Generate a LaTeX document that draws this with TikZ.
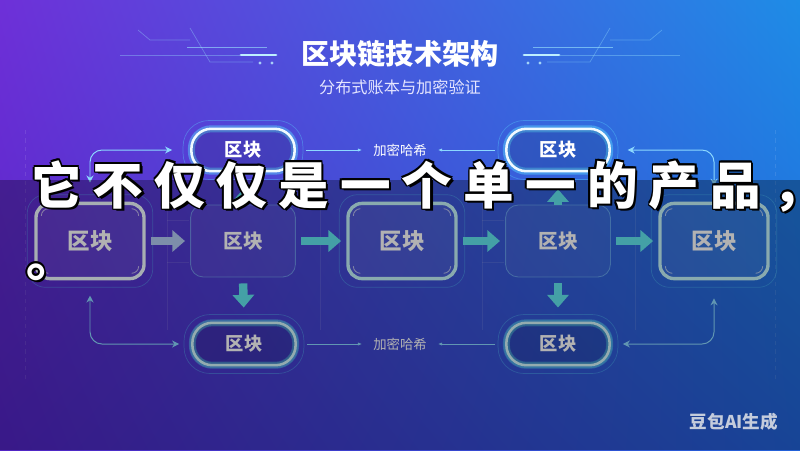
\documentclass[tikz,border=0pt]{standalone}
\usepackage{fontspec}
\usepackage{tikz}
\usetikzlibrary{arrows.meta,positioning,shadings}
\newfontfamily\cjk{Noto Sans CJK SC}
\newfontfamily\capfont{Noto Sans CJK SC}[LetterSpace=22]
\definecolor{BgTL}{HTML}{6E30D8}
\definecolor{BgTR}{HTML}{1E8CE6}
\definecolor{BgBL}{HTML}{5224C4}
\definecolor{BgBR}{HTML}{2262D8}
\definecolor{Frost}{HTML}{F0FAFF}
\definecolor{GlowCyan}{HTML}{5CD8FF}
\definecolor{Teal}{HTML}{62E6EE}
\definecolor{Slate}{HTML}{B4CCF4}
\definecolor{Wire}{HTML}{8CD8FF}
\definecolor{Mark}{HTML}{C4CCDC}

\begin{document}
\begin{tikzpicture}[x=0.025cm,y=-0.025cm,>=Latex,font=\cjk,
glowbox/.style={draw=Frost,line width=2.4pt,rounded corners=10pt,fill=white,fill opacity=0.07,text opacity=1,minimum width=2.7cm,minimum height=1.88cm,text=white,font=\cjk\bfseries\fontsize{16}{18}\selectfont},
plainbox/.style={draw=Wire,draw opacity=0.5,line width=0.6pt,rounded corners=9pt,fill=white,fill opacity=0.05,text opacity=1,minimum width=2.62cm,minimum height=1.8cm,text=white,font=\cjk\bfseries\fontsize{14}{16}\selectfont},
pill/.style={draw=Frost,line width=1.8pt,rounded corners=0.5cm,fill=black,fill opacity=0.12,text opacity=1,minimum width=2.58cm,minimum height=1.06cm,text=white,font=\cjk\bfseries\fontsize{13}{15}\selectfont,preaction={draw=GlowCyan,draw opacity=0.45,line width=5pt}},
ring/.style={draw=GlowCyan,draw opacity=0.35,line width=0.5pt},
tick/.style={white,opacity=0.6,line width=0.6pt},
fat/.style={line width=6pt,-{Triangle[length=9pt,width=15pt]},Teal,shorten <=0.13cm,shorten >=0.13cm},
wire/.style={Wire,line width=0.7pt,{Stealth[length=5pt,width=5pt]}-{Stealth[length=5pt,width=5pt]},rounded corners=0.3cm},
hashlbl/.style={text=white,font=\cjk\fontsize{9.5}{11}\selectfont,inner sep=0pt},
grid/.style={white,opacity=0.1,line width=0.5pt},
deco/.style={GlowCyan!60!white,opacity=0.35,line width=0.5pt},
captxt/.style={anchor=base west,inner sep=0pt,text=white,font=\capfont\bfseries\fontsize{36}{42}\selectfont}]

\clip (0,0) rectangle (800,450);
% background
\shade[upper left=BgTL,upper right=BgTR,lower left=BgBL,lower right=BgBR] (0,0) rectangle (800,450);

% title decoration, mirrored
\foreach \s/\o in {1/0,-1/800}{
\begin{scope}[shift={(\o,0)},xscale=\s]
\draw[deco] (138,30) -- (150,40) -- (190,40);
\draw[deco] (190,28) -- (210,62) -- (253,62);
\draw[deco,opacity=0.6] (187,47) -- (267,47);
\draw[deco] (120,55) -- (240,55);
\draw[GlowCyan!40!white,line width=2pt,line cap=round] (241,55) -- (276,55);
\fill[GlowCyan!40!white,opacity=0.8] (260,63) circle (1.2pt) (272,63) circle (1.2pt);
\end{scope}}

\node[font=\cjk\bfseries\fontsize{20}{24}\selectfont,text=white] (title) at (400,54) {区块链技术架构};
\node[font=\cjk\fontsize{11.5}{14}\selectfont,text=white!90!blue] (sub) at (400,87) {分布式账本与加密验证};

% faint grid
\foreach \x in {167,320,482,635}{\draw[grid] (\x,185) -- (\x,330);}
\foreach \x in {25,775}{\draw[grid,dashed] (\x,130) -- (\x,380);}
\foreach \x/\y in {167/220,167/262,482/220,482/262}{\draw[grid] (\x,\y) -- (\x+22,\y);}

% blocks
\node[glowbox] (b1) at (90,241) {区块};
\node[plainbox] (b2) at (243,241) {区块};
\node[glowbox,draw=Frost!70!Teal] (b3) at (402,241) {区块};
\node[plainbox] (b4) at (558,241) {区块};
\node[glowbox,draw=Frost!70!Teal] (b5) at (714,241) {区块};
\node[pill] (tl) at (243,150) {区块};
\node[pill] (tr) at (558,150) {区块};
\node[pill,draw=Frost!80!Teal,preaction={draw=Teal,draw opacity=0.3,line width=4pt}] (bl) at (244,344) {区块};
\node[pill,draw=Frost!80!Teal,preaction={draw=Teal,draw opacity=0.3,line width=4pt}] (br) at (558,344) {区块};
\node[hashlbl] (ht) at (400,150) {加密哈希};
\node[hashlbl] (hb) at (400,344) {加密哈希};

\foreach \n in {b1,b3,b5}{
\draw[ring,rounded corners=13pt] ([shift={(-5pt,5pt)}]\n.north west) rectangle ([shift={(5pt,-5pt)}]\n.south east);
\draw[tick] ([shift={(5pt,-10pt)}]\n.north west) arc[start angle=180,end angle=90,radius=5pt];
\draw[tick] ([shift={(-10pt,-5pt)}]\n.north east) arc[start angle=90,end angle=0,radius=5pt];
\draw[tick] ([shift={(-5pt,10pt)}]\n.south east) arc[start angle=0,end angle=-90,radius=5pt];
\draw[tick] ([shift={(10pt,5pt)}]\n.south west) arc[start angle=270,end angle=180,radius=5pt];}
\foreach \n in {tl,tr,bl,br}{
\draw[ring,rounded corners=0.65cm] ([shift={(-5pt,5pt)}]\n.north west) rectangle ([shift={(5pt,-5pt)}]\n.south east);}

% connectors
\foreach \u/\v/\c in {b1/b2/Slate,b2/b3/Teal,b3/b4/Teal,b4/b5/Teal}{\draw[fat,\c] (\u)--(\v);}
\draw[fat,shorten <=0pt,shorten >=0.42cm] (b2.north) -- (tl.south);
\draw[fat,shorten <=0pt,shorten >=0.42cm] (b4.north) -- (tr.south);
\draw[fat,shorten <=0.15cm,shorten >=0.35cm] (b2.south) -- (bl.north);
\draw[fat,shorten <=0.15cm,shorten >=0.35cm] (b4.south) -- (br.north);
\draw[wire,shorten <=0.48cm,shorten >=0.45cm] (b1.north) |- (tl.west);
\draw[wire,shorten <=0.4cm,shorten >=0.42cm] (b5.north) |- (tr.east);
\draw[wire,shorten <=0.38cm,shorten >=0.3cm] (b1.south) |- (bl.west);
\draw[wire,shorten <=0.45cm,shorten >=0.3cm] (b5.south) |- (br.east);
\foreach \u/\v in {tl/ht,tr/ht,bl/hb,br/hb}{\draw[Wire,line width=0.7pt,-{Latex[length=3pt]},shorten <=0.25cm,shorten >=0.27cm] (\u)--(\v);}

% dimming band
\fill[black,opacity=0.3] (0,180) rectangle (800,450);

\node[anchor=east,text=Mark,font=\cjk\bfseries\fontsize{12.5}{14}\selectfont] (mark) at (783,422) {豆包AI生成};

% caption
\foreach \dx/\dy in {-1.6/0,1.6/0,0/-1.6,0/1.6,-1.2/-1.2,1.2/1.2,-1.2/1.2,1.2/-1.2,2.2/2.2}{
\node[captxt,text=black] at (31+\dx,204+\dy) {它不仅仅是一个单一的产品，};
\node[captxt,text=black] at (26+\dx,276+\dy) {。};}
\node[captxt] (cap1) at (31,204) {它不仅仅是一个单一的产品，};
\node[captxt] (cap2) at (26,276) {。};
\end{tikzpicture}
\end{document}
